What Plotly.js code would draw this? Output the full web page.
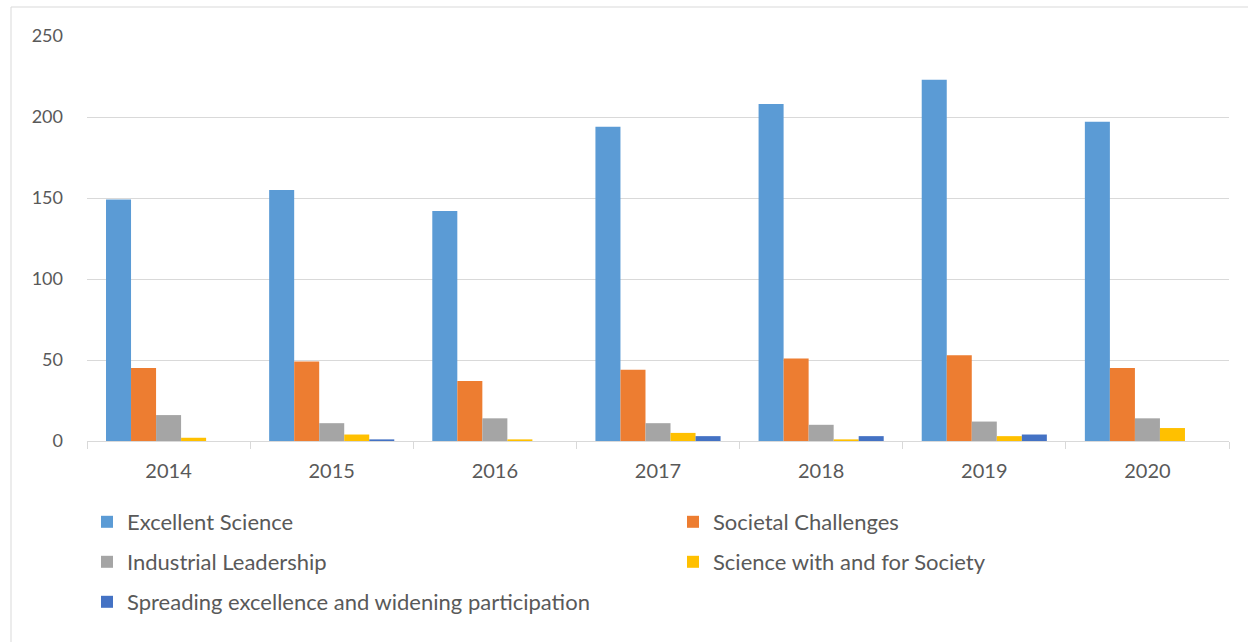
<!DOCTYPE html>
<html><head><meta charset="utf-8">
<script src="https://cdn.plot.ly/plotly-3.0.1.min.js"></script>
<style>html,body{margin:0;padding:0;background:#fff}#chart{width:1248px;height:642px}</style>
</head><body><div id="chart"></div>
<script>
const years = ['2014','2015','2016','2017','2018','2019','2020'];
const seriesNames = ['Excellent Science','Societal Challenges','Industrial Leadership','Science with and for Society','Spreading excellence and widening participation'];
const excellentScience = [149,155,142,194,208,223,197];
const societalChallenges = [45,49,37,44,51,53,45];
const industrialLeadership = [16,11,14,11,10,12,14];
const scienceWithSociety = [2,4,1,5,1,3,8];
const spreadingExcellence = [0,1,0,3,3,4,0];
const colors = ['#5B9BD5','#ED7D31','#A5A5A5','#FFC000','#4472C4'];
const allValues = [excellentScience,societalChallenges,industrialLeadership,scienceWithSociety,spreadingExcellence];
const legendIds = ['legend','legend2','legend3','legend4','legend5'];

const traces = allValues.map((v,i)=>({
  type:'bar', x:years, y:v, name:seriesNames[i],
  marker:{color:colors[i]}, legend:legendIds[i], hoverinfo:'x+y+name'
}));

const fam = 'Lato, "Open Sans", sans-serif';
const col = '#595959';
const legFont = {family:fam, size:22, color:col};
const legPos = [[0,522],[586,522],[0,562],[586,562],[0,602]];
const layout = {
  width:1248, height:642,
  margin:{l:87, r:19, t:36, b:201},
  paper_bgcolor:'#fff', plot_bgcolor:'#fff',
  barmode:'group', bargap:0.233, bargroupgap:0,
  font:{family:fam, size:18, color:col},
  showlegend:true,
  xaxis:{type:'category', showgrid:false, showline:true, linecolor:'#d9d9d9', linewidth:1,
    ticks:'outside', tickson:'boundaries', ticklen:7, tickcolor:'#d9d9d9',
    ticklabelstandoff:12, tickfont:{family:fam, size:20, color:col}, zeroline:false},
  yaxis:{range:[0,250], dtick:50, tick0:0, showgrid:true, gridcolor:'#d9d9d9', gridwidth:1,
    zeroline:false, showline:false, ticks:'', ticklabelstandoff:23,
    tickfont:{family:fam, size:18, color:col}},
  shapes:[{type:'rect', xref:'paper', yref:'paper',
    x0:(11-87)/1142, x1:(1250-87)/1142, y0:(441-645)/405, y1:(441-7)/405,
    line:{color:'#d9d9d9', width:1}, fillcolor:'rgba(0,0,0,0)', layer:'below'}]
};
legendIds.forEach((id,i)=>{
  layout[id] = {orientation:'h', xanchor:'left', yanchor:'middle',
    x:legPos[i][0]/1142, y:(441-legPos[i][1])/405, font:legFont,
    itemwidth:30, bgcolor:'rgba(0,0,0,0)'};
});
Plotly.newPlot('chart', traces, layout, {displayModeBar:false, staticPlot:true});
</script></body></html>
